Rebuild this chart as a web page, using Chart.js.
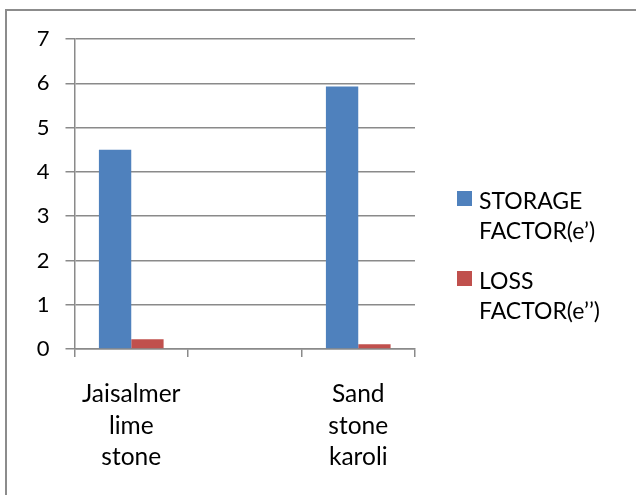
<!DOCTYPE html>
<html>
<head>
<meta charset="utf-8">
<script src="https://cdn.jsdelivr.net/npm/chart.js@4/dist/chart.umd.min.js"></script>
<style>
  html, body { margin: 0; padding: 0; background: #fff; }
  body { width: 636px; height: 495px; position: relative; overflow: hidden; font-family: Lato, "Open Sans", sans-serif; }
  #frame { position: absolute; left: 5px; top: 9px; width: 700px; height: 600px; border: 2px solid #8c8c8c; box-sizing: border-box; }
  #wrap { position: absolute; left: 0; top: 0; width: 636px; height: 495px; }
  #legend { position: absolute; left: 457px; top: 185px; }
  .item { position: relative; padding-left: 22px; font-size: 23px; line-height: 30px; color: #000; margin-bottom: 20px; }
  .swatch { position: absolute; left: 0; top: 6px; width: 15px; height: 15px; }
</style>
</head>
<body>
<div id="frame"></div>
<div id="wrap"><canvas id="c" width="636" height="495"></canvas></div>
<div id="legend"></div>
<script>
// Stone samples (the middle slot is left empty)
const categories = [["Jaisalmer", "lime", "stone"], "", ["Sand", "stone", "karoli"]];
const storageFactor = [4.5, null, 5.93];
const lossFactor = [0.22, null, 0.11];
const seriesNames = [["STORAGE", "FACTOR(e\u2019)"], ["LOSS", "FACTOR(e\u2019\u2019)"]];
const seriesColors = ["#4F81BD", "#C0504D"];
const yTicks = [0, 1, 2, 3, 4, 5, 6, 7];

const gridColor = "#8a8a8a";

const chart = new Chart(document.getElementById("c"), {
  type: "bar",
  data: {
    labels: categories,
    datasets: [
      { label: seriesNames[0].join(" "), data: storageFactor, backgroundColor: seriesColors[0] },
      { label: seriesNames[1].join(" "), data: lossFactor, backgroundColor: seriesColors[1] }
    ]
  },
  options: {
    responsive: false,
    animation: false,
    layout: { padding: { left: 0, top: 39, right: 221, bottom: 0 } },
    datasets: { bar: { categoryPercentage: 0.57, barPercentage: 1.0 } },
    plugins: { legend: { display: false }, tooltip: { enabled: false } },
    scales: {
      x: {
        offset: true,
        grid: { drawOnChartArea: false, offset: true, tickLength: 8, color: gridColor, lineWidth: 1.5 },
        border: { color: gridColor, width: 1.5 },
        ticks: { color: "#000", font: { family: "Lato", size: 24.5, lineHeight: 1.27 }, padding: 22, maxRotation: 0, autoSkip: false },
        afterFit: s => { s.height = 146; }
      },
      y: {
        min: 0,
        max: yTicks[yTicks.length - 1],
        afterBuildTicks: s => { s.ticks = yTicks.map(v => ({ value: v })); },
        grid: { color: gridColor, lineWidth: 1.5, tickLength: 9 },
        border: { color: gridColor, width: 1.5 },
        ticks: { color: "#000", font: { family: "Lato", size: 22 }, padding: 16 },
        afterFit: s => { s.width = 74.5; }
      }
    }
  }
});

// Legend built from the chart's datasets
const legend = document.getElementById("legend");
chart.data.datasets.forEach((ds, i) => {
  const item = document.createElement("div");
  item.className = "item";
  const sw = document.createElement("span");
  sw.className = "swatch";
  sw.style.background = ds.backgroundColor;
  item.appendChild(sw);
  seriesNames[i].forEach(line => {
    const d = document.createElement("div");
    d.textContent = line;
    item.appendChild(d);
  });
  legend.appendChild(item);
});
</script>
</body>
</html>
